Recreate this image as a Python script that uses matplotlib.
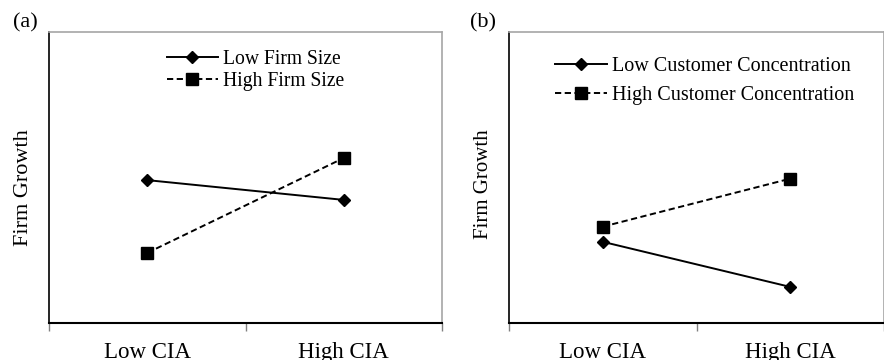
import matplotlib
matplotlib.use("Agg")
import matplotlib.pyplot as plt

plt.rcParams['font.family'] = ['Liberation Serif', 'DejaVu Serif']

categories = ["Low CIA", "High CIA"]
y_label = "Firm Growth"

# Panel (a)
a_series = ["Low Firm Size", "High Firm Size"]
a_low = [4.91, 4.23]
a_high = [2.41, 5.67]

# Panel (b)
b_series = ["Low Customer Concentration", "High Customer Concentration"]
b_low = [2.79, 1.24]
b_high = [3.31, 4.96]

W, H = 8.84, 3.60
fig = plt.figure(figsize=(W, H), dpi=100)

def make_ax(left_px, right_px, top_px=32, bottom_px=323):
    return fig.add_axes([left_px / 884, 1 - bottom_px / 360,
                         (right_px - left_px) / 884, (bottom_px - top_px) / 360])

def style(ax, left_px, right_px, panel, panel_x, series, low, high,
          legend_xy, spacing, leg_fs, ylab_fs, ylab_y):
    xs = [0.5, 1.5]
    ax.plot(xs, low, color='black', lw=1.4, marker='D', ms=6.5,
            markerfacecolor='black', markeredgecolor='black', label=series[0])
    ax.plot(xs, high, color='black', lw=1.4, ls=(0, (3.2, 1.8)), marker='s', ms=8,
            markerfacecolor='black', markeredgecolor='black', label=series[1])
    ax.set_xlim(0, 2)
    ax.set_ylim(0, 10)
    ax.set_yticks([])
    ax.set_xticks([0, 1, 2])
    ax.set_xticklabels([])
    ax.tick_params(axis='x', which='major', length=6, color='#808080', width=1)
    ax.set_xticks(xs, minor=True)
    ax.set_xticklabels(categories, minor=True, fontsize=16.5)
    ax.tick_params(axis='x', which='minor', length=0, pad=14)
    for s in ['top', 'right']:
        ax.spines[s].set_color('#a6a6a6')
        ax.spines[s].set_linewidth(1.2)
    ax.spines['left'].set_color('black')
    ax.spines['bottom'].set_color('black')
    ax.spines['left'].set_linewidth(1.2)
    ax.spines['bottom'].set_linewidth(1.5)
    ax.set_ylabel(y_label, fontsize=ylab_fs)
    ax.yaxis.set_label_coords(-16 / (right_px - left_px), ylab_y)
    fig.text(panel_x / 884, 1 - 13 / 360, panel, fontsize=16, ha='left', va='top')
    ax.legend(loc='upper left', bbox_to_anchor=legend_xy, frameon=False,
              fontsize=leg_fs, handlelength=2.6, handletextpad=0.25,
              labelspacing=spacing, borderpad=0, borderaxespad=0)

ax1 = make_ax(49, 442)
style(ax1, 49, 442, "(a)", 13, a_series, a_low, a_high,
      ((167 - 49) / 393, (323 - 50) / 291), 0.15, 14.1, 16, 0.466)

ax2 = make_ax(509, 884)
style(ax2, 509, 884, "(b)", 470, b_series, b_low, b_high,
      ((555 - 509) / 375, (323 - 57) / 291), 0.5, 14.5, 15, 0.478)

fig.savefig("out.png", dpi=100)
